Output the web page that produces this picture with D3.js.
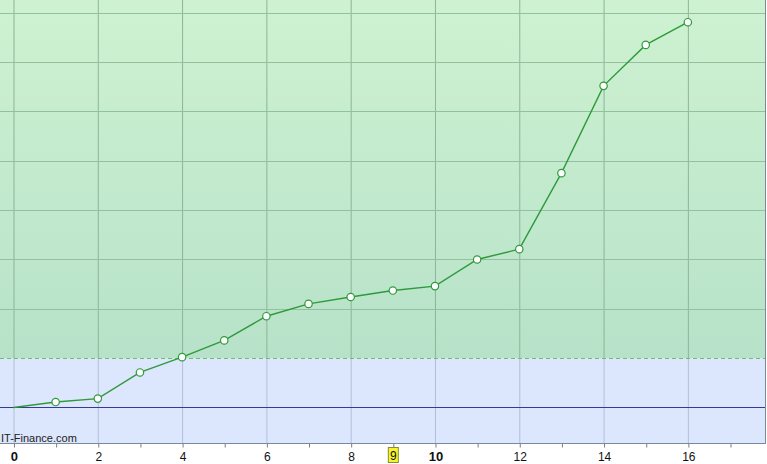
<!DOCTYPE html>
<html><head><meta charset="utf-8">
<script src="https://cdn.jsdelivr.net/npm/d3@7"></script>
<style>body{margin:0;background:#fff}svg{display:block}</style>
</head><body>
<svg id="c" width="767" height="464"></svg>
<script>
const xValues = [0,1,2,3,4,5,6,7,8,9,10,11,12,13,14,15,16];
const yValues = [0,0.11,0.18,0.71,1.02,1.36,1.85,2.10,2.24,2.37,2.46,3.00,3.21,4.75,6.52,7.35,7.81];
const xTickLabels = [0,2,4,6,8,10,12,14,16];
const yGridValues = [2,3,4,5,6,7,8];
const thresholdValue = 1;
const highlightX = 9;
const boldLabels = [0,10];
const watermark = "IT-Finance.com";

const svg = d3.select("#c");
const plot = {left:0, right:765, top:0, bottom:443};
const x = d3.scaleLinear().domain([-0.32, 17.83]).range([plot.left, plot.right]);
const y = d3.scaleLinear().domain([-0.72, 8.26]).range([plot.bottom, plot.top]);

const defs = svg.append("defs");
const g = defs.append("linearGradient").attr("id","gr").attr("x1",0).attr("y1",0).attr("x2",0).attr("y2",1);
g.append("stop").attr("offset","0%").attr("stop-color","#cef2d1");
g.append("stop").attr("offset","100%").attr("stop-color","#b7e2c9");

svg.append("rect").attr("x",plot.left).attr("y",y(thresholdValue)).attr("width",plot.right-plot.left)
  .attr("height",plot.bottom-y(thresholdValue)).attr("fill","#dce6fc");
svg.append("rect").attr("x",plot.left).attr("y",plot.top).attr("width",plot.right-plot.left)
  .attr("height",y(thresholdValue)-plot.top).attr("fill","url(#gr)");

xTickLabels.forEach(v=>{
  svg.append("line").attr("x1",x(v)+0.5).attr("x2",x(v)+0.5).attr("y1",plot.top).attr("y2",y(thresholdValue))
    .attr("stroke","#8db497").attr("stroke-width",1);
  svg.append("line").attr("x1",x(v)+0.5).attr("x2",x(v)+0.5).attr("y1",y(thresholdValue)).attr("y2",plot.bottom)
    .attr("stroke","#b2c0da").attr("stroke-width",1);
});
yGridValues.forEach(v=>{
  svg.append("line").attr("x1",plot.left).attr("x2",plot.right).attr("y1",Math.round(y(v))+0.5).attr("y2",Math.round(y(v))+0.5)
    .attr("stroke","#93c09e").attr("stroke-width",1);
});
svg.append("line").attr("x1",plot.left).attr("x2",plot.right).attr("y1",Math.round(y(thresholdValue))+0.5).attr("y2",Math.round(y(thresholdValue))+0.5)
  .attr("stroke","#6cbf6c").attr("stroke-width",1).attr("stroke-dasharray","4,3");
svg.append("line").attr("x1",plot.left).attr("x2",plot.right).attr("y1",Math.round(y(0))+0.5).attr("y2",Math.round(y(0))+0.5)
  .attr("stroke","#353a96").attr("stroke-width",1);

const axis = d3.axisBottom(x).tickValues(d3.range(0,18)).tickSize(4).tickFormat("");
const ax = svg.append("g").attr("transform",`translate(0.5,${plot.bottom+0.5})`).call(axis);
ax.select(".domain").remove();
ax.selectAll("line").attr("stroke","#6f7f8c");
svg.append("line").attr("x1",plot.left).attr("x2",plot.right+1).attr("y1",plot.bottom+0.5).attr("y2",plot.bottom+0.5).attr("stroke","#7b8a98");
svg.append("line").attr("x1",plot.right+0.5).attr("x2",plot.right+0.5).attr("y1",plot.top).attr("y2",plot.bottom).attr("stroke","#7b8a98");

xTickLabels.forEach(v=>{
  svg.append("text").attr("x",x(v)+1).attr("y",461).attr("text-anchor","middle")
    .attr("font-family","Arial, Liberation Sans, sans-serif").attr("font-size", boldLabels.includes(v)?13:12)
    .attr("font-weight", boldLabels.includes(v)?"bold":"normal").attr("fill","#111").text(v);
});
svg.append("rect").attr("x",x(highlightX)-4.5).attr("y",447.5).attr("width",10).attr("height",15)
  .attr("fill","#f5f52a").attr("stroke","#8a8a3a").attr("stroke-width",1);
svg.append("text").attr("x",x(highlightX)+0.5).attr("y",460).attr("text-anchor","middle")
  .attr("font-family","Arial, Liberation Sans, sans-serif").attr("font-size",12).attr("fill","#111").text(highlightX);

svg.append("text").attr("x",1).attr("y",442).attr("font-family","Arial, Liberation Sans, sans-serif")
  .attr("font-size",11).attr("fill","#222").text(watermark);

const data = xValues.map((d,i)=>({x:d,y:yValues[i]}));
svg.append("path").datum(data).attr("fill","none").attr("stroke","#2e9a3a").attr("stroke-width",1.4)
  .attr("d", d3.line().x(d=>x(d.x)).y(d=>y(d.y)));
svg.selectAll("circle.pt").data(data.slice(1)).enter().append("circle").attr("class","pt")
  .attr("cx",d=>x(d.x)).attr("cy",d=>y(d.y)).attr("r",3.7)
  .attr("fill","#fff").attr("stroke","#2e9a3a").attr("stroke-width",1.2);
</script>
</body></html>
